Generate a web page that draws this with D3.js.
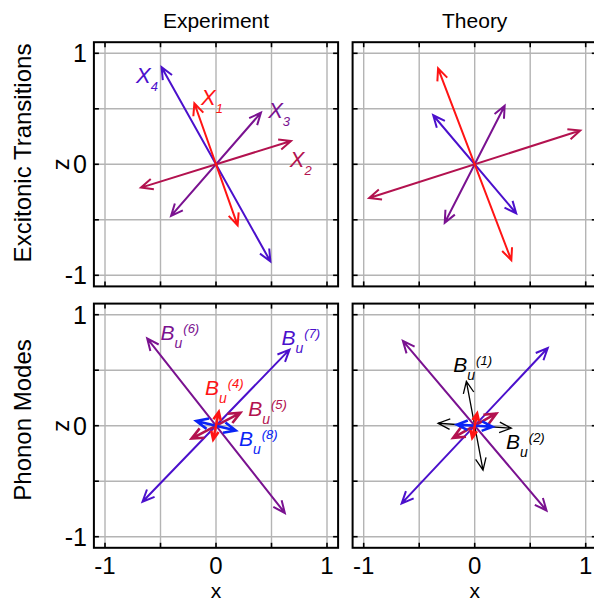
<!DOCTYPE html>
<html>
<head>
<meta charset="utf-8">
<style>
  body { margin: 0; background: #fff; }
  text { font-family: "Liberation Sans", Arial, sans-serif; }
</style>
</head>
<body>
<svg id="chart" width="594" height="603"></svg>
<script src="https://cdn.jsdelivr.net/npm/d3@7"></script>
<script>
// ---- data (vectors drawn as double headed arrows through the origin) ----
// excitonic transitions, listed in drawing order
const excitonIds = ["4", "3", "2", "1"];
const excitonExpX = [-0.49, 0.405, 0.676, -0.195];
const excitonExpZ = [0.875, 0.465, 0.21, 0.55];
const excitonTheoryX = [-0.374, 0.27, 0.951, -0.33];
const excitonTheoryZ = [0.442, 0.527, 0.304, 0.864];

// phonon modes Bu(n), drawing order
const phononExpIds = ["6", "7", "5", "8", "4"];
const phononExpX = [-0.62, 0.662, 0.22, 0.178, 0.025];
const phononExpZ = [0.786, 0.685, 0.116, -0.043, 0.125];
const phononTheoryIds = ["1", "2", "6", "7", "5", "8", "4"];
const phononTheoryX = [-0.075, 0.33, -0.647, 0.658, 0.195, 0.16, 0.022];
const phononTheoryZ = [0.40, -0.022, 0.764, 0.70, 0.11, -0.01, 0.11];
const phononTheoryLabelled = ["1", "2"];

const gridVals = [-1, -0.5, 0, 0.5, 1];
const tickLabelVals = [-1, 0, 1];
const colTitles = ["Experiment", "Theory"];
const rowTitles = ["Excitonic Transitions", "Phonon Modes"];

// ---- styles ----
const colors = {
  "X1": "#ff1414", "X2": "#b3124f", "X3": "#7a1290", "X4": "#4b10cc",
  "B1": "#000", "B2": "#000", "B4": "#ff1414", "B5": "#b3124f",
  "B6": "#7a1290", "B7": "#4b10cc", "B8": "#0a24f5"
};
// label anchors in data units
const labelPos = {
  "X4": [-0.72, 0.73], "X1": [-0.135, 0.535], "X3": [0.47, 0.415], "X2": [0.665, -0.025],
  "B6": [-0.50, 0.77], "B7": [0.59, 0.727], "B4": [-0.10, 0.277], "B5": [0.29, 0.087],
  "B8": [0.207, -0.183], "B1": [-0.193, 0.486], "B2": [0.282, -0.21]
};

const svg = d3.select("#chart");
const domain = [-1.1, 1.1];
const xScales = [
  d3.scaleLinear().domain(domain).range([93.9, 338.1]),
  d3.scaleLinear().domain(domain).range([352.6, 596.8])
];
const yScales = [
  d3.scaleLinear().domain(domain).range([286.4, 42.2]),
  d3.scaleLinear().domain(domain).range([547.8, 303.6])
];

const panels = [
  {col: 0, row: 0, prefix: "X", ids: excitonIds, xs: excitonExpX, zs: excitonExpZ, labels: excitonIds},
  {col: 1, row: 0, prefix: "X", ids: excitonIds, xs: excitonTheoryX, zs: excitonTheoryZ, labels: []},
  {col: 0, row: 1, prefix: "B", ids: phononExpIds, xs: phononExpX, zs: phononExpZ, labels: phononExpIds},
  {col: 1, row: 1, prefix: "B", ids: phononTheoryIds, xs: phononTheoryX, zs: phononTheoryZ, labels: phononTheoryLabelled}
];

function drawArrow(g, x, y, vx, vz, color, width) {
  const x0 = x(-vx), y0 = y(-vz), x1 = x(vx), y1 = y(vz);
  const half = Math.hypot(x1 - x0, y1 - y0) / 2;
  const L = Math.min(13, 0.65 * half);
  const ang = 24 * Math.PI / 180;
  let d = `M${x0},${y0}L${x1},${y1}`;
  [[x1, y1, x0, y0], [x0, y0, x1, y1]].forEach(([tx, ty, fx, fy]) => {
    const a = Math.atan2(fy - ty, fx - tx);
    const p1 = [tx + L * Math.cos(a + ang), ty + L * Math.sin(a + ang)];
    const p2 = [tx + L * Math.cos(a - ang), ty + L * Math.sin(a - ang)];
    d += `M${p1[0]},${p1[1]}L${tx},${ty}L${p2[0]},${p2[1]}`;
  });
  g.append("path").attr("d", d).attr("fill", "none")
    .attr("stroke", color).attr("stroke-width", width)
    .attr("stroke-linejoin", "miter").attr("stroke-linecap", "butt");
}

function drawLabel(g, x, y, prefix, id) {
  const key = prefix + id;
  const [lx, lz] = labelPos[key];
  const t = g.append("text").attr("x", x(lx)).attr("y", y(lz))
    .attr("fill", colors[key]).attr("font-style", "italic");
  if (prefix === "X") {
    t.attr("font-size", 22).text("X");
    t.append("tspan").attr("font-size", 13).attr("dy", 8).text(id);
  } else {
    t.attr("font-size", 21).text("B");
    t.append("tspan").attr("font-size", 14).attr("dy", 8).text("u");
    t.append("tspan").attr("font-size", 13).attr("dy", -15).attr("dx", 1).text("(" + id + ")");
  }
}

panels.forEach(p => {
  const x = xScales[p.col], y = yScales[p.row];
  const g = svg.append("g");
  const [xa, xb] = x.range(), [ya, yb] = y.range();

  // grid
  g.selectAll(".gx").data(gridVals).join("line")
    .attr("x1", d => x(d)).attr("x2", d => x(d)).attr("y1", ya).attr("y2", yb)
    .attr("stroke", "#b4b4b4").attr("stroke-width", 1.4);
  g.selectAll(".gy").data(gridVals).join("line")
    .attr("class", "gy")
    .attr("y1", d => y(d)).attr("y2", d => y(d)).attr("x1", xa).attr("x2", xb)
    .attr("stroke", "#b4b4b4").attr("stroke-width", 1.4);

  // inward ticks on all four sides
  const tl = 5;
  gridVals.forEach(v => {
    [[x(v), yb, x(v), yb + tl], [x(v), ya, x(v), ya - tl],
     [xa, y(v), xa + tl, y(v)], [xb, y(v), xb - tl, y(v)]].forEach(s => {
      g.append("line").attr("x1", s[0]).attr("y1", s[1]).attr("x2", s[2]).attr("y2", s[3])
        .attr("stroke", "#000").attr("stroke-width", 1.6);
    });
  });

  // frame
  g.append("rect").attr("x", xa).attr("y", yb).attr("width", xb - xa).attr("height", ya - yb)
    .attr("fill", "none").attr("stroke", "#000").attr("stroke-width", 2);

  // arrows
  p.ids.forEach((id, i) => {
    const key = p.prefix + id;
    const small = Math.hypot(p.xs[i], p.zs[i]) < 0.3;
    const w = key === "B1" || key === "B2" ? 1.3 : (small ? 2.6 : 2);
    drawArrow(g, x, y, p.xs[i], p.zs[i], colors[key], w);
  });
  p.labels.forEach(id => drawLabel(g, x, y, p.prefix, id));

  // tick labels
  if (p.col === 0) {
    g.selectAll(".yl").data(tickLabelVals).join("text")
      .attr("x", 87).attr("y", d => y(d)).attr("dy", "0.36em")
      .attr("text-anchor", "end").attr("font-size", 25).text(d => d);
    g.append("text").attr("transform", `translate(69,${y(0)}) rotate(-90)`)
      .attr("text-anchor", "middle").attr("font-size", 24).text("z");
  }
  if (p.row === 1) {
    g.selectAll(".xl").data(tickLabelVals).join("text")
      .attr("x", d => x(d)).attr("y", 574)
      .attr("text-anchor", "middle").attr("font-size", 24).text(d => d);
    g.append("text").attr("x", x(0)).attr("y", 598)
      .attr("text-anchor", "middle").attr("font-size", 21).text("x");
  }
  if (p.row === 0) {
    g.append("text").attr("x", x(0)).attr("y", 28)
      .attr("text-anchor", "middle").attr("font-size", 21).text(colTitles[p.col]);
  }
});

// row titles
[[153, 0], [420, 1]].forEach(([cy, i]) => {
  svg.append("text").attr("transform", `translate(31,${cy}) rotate(-90)`)
    .attr("text-anchor", "middle").attr("font-size", 24).text(rowTitles[i]);
});
</script>
</body>
</html>
